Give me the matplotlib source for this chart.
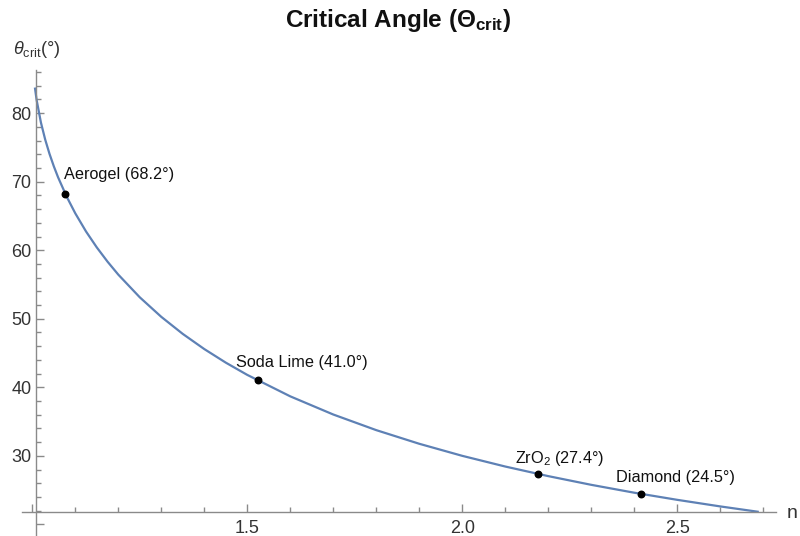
import matplotlib
matplotlib.use("Agg")
import matplotlib.pyplot as plt
from matplotlib.ticker import FixedLocator, FixedFormatter

plt.rcParams['font.family'] = ['Liberation Sans', 'DejaVu Sans']
plt.rcParams['mathtext.fontset'] = 'custom'
plt.rcParams['mathtext.rm'] = 'Liberation Sans'
plt.rcParams['mathtext.it'] = 'Liberation Sans:italic'
plt.rcParams['mathtext.bf'] = 'Liberation Sans:bold'

# curve samples (refractive index n, critical angle in degrees)
curve_n = [1.006, 1.01, 1.02, 1.03, 1.04, 1.05, 1.06, 1.08, 1.10, 1.125, 1.15,
           1.175, 1.2, 1.25, 1.3, 1.35, 1.4, 1.45, 1.5, 1.6, 1.7, 1.8, 1.9,
           2.0, 2.1, 2.2, 2.3, 2.4, 2.5, 2.6, 2.69]
curve_theta = [83.74, 81.93, 78.64, 76.14, 74.06, 72.25, 70.63, 67.81, 65.38,
               62.73, 60.41, 58.33, 56.44, 53.13, 50.28, 47.79, 45.58, 43.60,
               41.81, 38.68, 36.03, 33.75, 31.76, 30.00, 28.44, 27.04, 25.77,
               24.62, 23.58, 22.62, 21.82]

# labelled materials
materials = ['Aerogel', 'Soda Lime', 'ZrO$_2$', 'Diamond']
mat_n = [1.077, 1.524, 2.176, 2.417]
mat_theta = [68.2, 41.0, 27.4, 24.5]
label_offsets = [(-1, 20), (-22, 18), (-23, 15), (-25, 16)]

x_major = [1.0, 1.5, 2.0, 2.5]
x_major_labels = ['', '1.5', '2.0', '2.5']
y_major = [20, 30, 40, 50, 60, 70, 80]
y_major_labels = ['', '30', '40', '50', '60', '70', '80']

fig = plt.figure(figsize=(8, 5.36), dpi=100)
ax = fig.add_axes([22/800, 0.0, (776-22)/800, 1 - 70/536])

curve_color = '#5E81B5'
ax.plot(curve_n, curve_theta, color=curve_color, lw=1.6, solid_capstyle='butt', clip_on=False)
ax.scatter(mat_n, mat_theta, s=22, color='black', zorder=5)
for name, nv, tv, off in zip(materials, mat_n, mat_theta, label_offsets):
    ax.annotate(f'{name} ({tv:.1f}°)', (nv, tv), xytext=off, textcoords='offset pixels',
                ha='left', va='center', fontsize=11.7, color='#111111')

ax.set_xlim(0.976, 2.73)
ax.set_ylim(18.3, 86.3)

axis_color = '#8a8a8a'
for s in ['top', 'right']:
    ax.spines[s].set_visible(False)
ax.spines['left'].set_position(('data', 1.008))
ax.spines['bottom'].set_position(('data', 21.84))
for s in ['left', 'bottom']:
    ax.spines[s].set_color(axis_color)
    ax.spines[s].set_linewidth(1.0)

ax.xaxis.set_major_locator(FixedLocator(x_major))
ax.xaxis.set_major_formatter(FixedFormatter(x_major_labels))
ax.xaxis.set_minor_locator(FixedLocator([1.1, 1.2, 1.3, 1.4, 1.6, 1.7, 1.8, 1.9,
                                         2.1, 2.2, 2.3, 2.4, 2.6, 2.7]))
ax.yaxis.set_major_locator(FixedLocator(y_major))
ax.yaxis.set_major_formatter(FixedFormatter(y_major_labels))
ax.yaxis.set_minor_locator(FixedLocator([v for v in range(22, 87, 2) if v % 10 != 0]))

ax.tick_params(axis='both', which='major', direction='in', length=6, width=1.0,
               color=axis_color, labelcolor='#333333', labelsize=13)
ax.tick_params(axis='both', which='minor', direction='in', length=3.5, width=1.0,
               color=axis_color)
ax.tick_params(axis='x', which='major', pad=6)
ax.tick_params(axis='y', which='major', pad=3)

fig.text(398/800, 1 - 21/536, 'Critical Angle (Θ$_{\\mathbf{crit}}$)', ha='center', va='center',
         fontsize=17.5, fontweight='bold', color='#111111')
fig.text(13/800, 1 - 50/536, '$\\theta_{\\mathrm{crit}}$(°)', ha='left', va='center',
         fontsize=13, color='#333333')
fig.text(792/800, 1 - 513/536, 'n', ha='center', va='center', fontsize=14, color='#333333')

fig.savefig('out.png', dpi=100)
